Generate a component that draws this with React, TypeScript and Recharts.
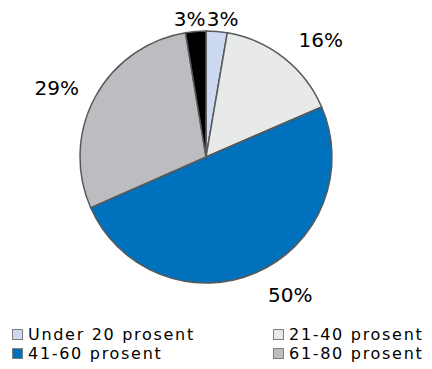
import { PieChart, Pie, Cell, Legend } from 'recharts';

// slices clockwise from 12 o'clock
const CATEGORIES = ['Under 20 prosent', '21-40 prosent', '41-60 prosent', '61-80 prosent', '81-100 prosent'];
const SHARES = [2.7, 15.8, 49.9, 29.0, 2.6];
const LABELS = ['3%', '16%', '50%', '29%', '3%'];
// legend in the picture only shows the first four entries
const LEGEND_ITEMS = CATEGORIES.slice(0, 4);

const COLORS = ['#cdd9f0', '#e8e9e9', '#0071bc', '#bcbdc0', '#000000'];
const FONT = '"DejaVu Sans", sans-serif';
const RAD = Math.PI / 180;

const data = CATEGORIES.map((name, i) => ({ name, value: SHARES[i], label: LABELS[i] }));

function SliceLabel(props: any) {
  const { cx, cy, midAngle, outerRadius, index, percent } = props;
  const ux = Math.cos(-midAngle * RAD);
  const uy = Math.sin(-midAngle * RAD);
  const small = percent < 0.05;
  const r = outerRadius + (small ? 12 : 14);
  const px = cx + r * ux;
  const py = cy + r * uy;
  if (small) {
    return (
      <text x={px + Math.sign(ux) * 5} y={py} textAnchor="middle" dominantBaseline="central"
        fill="#000" fontSize={20} fontFamily={FONT}>
        {LABELS[index]}
      </text>
    );
  }
  return (
    <text
      x={px + (ux > 0 ? 6 : -4)}
      y={py + uy * Math.abs(uy) * 12}
      textAnchor={ux > 0 ? 'start' : 'end'}
      dominantBaseline="central"
      fill="#000"
      fontSize={20}
      fontFamily={FONT}
    >
      {LABELS[index]}
    </text>
  );
}

function LegendBox() {
  return (
    <div style={{ display: 'grid', gridTemplateColumns: '261px 171px', fontFamily: FONT, fontSize: 16, lineHeight: '19px', letterSpacing: 1.7, color: '#000' }}>
      {LEGEND_ITEMS.map((name, i) => (
        <div key={name} style={{ display: 'flex', alignItems: 'center', height: 19, whiteSpace: 'nowrap' }}>
          <span style={{ width: 9, height: 9, background: COLORS[i], border: '1px solid #7f7f7f', marginRight: 5, flex: 'none' }} />
          {name}
        </div>
      ))}
    </div>
  );
}

export default function App() {
  return (
    <div style={{ position: 'absolute', left: 0, top: 0, width: 432, height: 369, background: '#fff', overflow: 'hidden' }}>
      <PieChart width={432} height={369} margin={{ top: 0, right: 0, bottom: 0, left: 0 }}>
        <Pie
          data={data}
          dataKey="value"
          cx={206}
          cy={157}
          outerRadius={126}
          startAngle={90}
          endAngle={-270}
          stroke="#595959"
          strokeWidth={1.5}
          label={SliceLabel}
          labelLine={false}
          isAnimationActive={false}
        >
          {data.map((d, i) => (
            <Cell key={d.name} fill={COLORS[i]} />
          ))}
        </Pie>
        <Legend content={<LegendBox />} wrapperStyle={{ left: 12, top: 325, width: 432 }} />
      </PieChart>
    </div>
  );
}
